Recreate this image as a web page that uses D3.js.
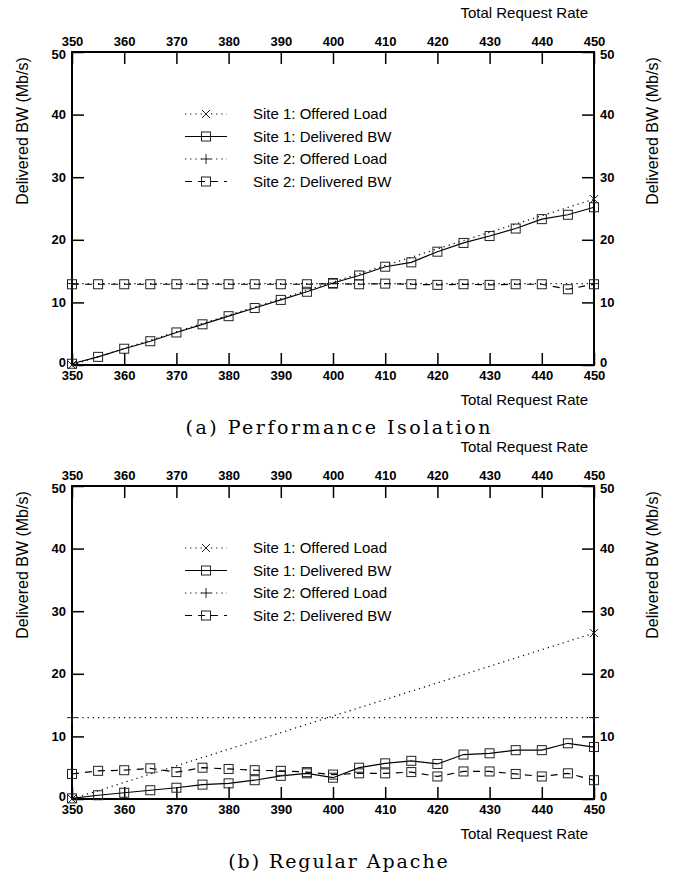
<!DOCTYPE html>
<html>
<head>
<meta charset="utf-8">
<script src="https://cdn.jsdelivr.net/npm/d3@7"></script>
<style>
  body { margin: 0; background: #fff; }
  svg { display: block; }
</style>
</head>
<body>
<svg id="chart"></svg>
<script>
// request rates where bandwidth was measured
const rate = [350, 355, 360, 365, 370, 375, 380, 385, 390, 395, 400,
              405, 410, 415, 420, 425, 430, 435, 440, 445, 450];
// offered load is a straight line between two points
const loadRate = [350, 450];

// (a) Performance Isolation
const isoS1Load = [0, 26.5];
const isoS2Load = [13, 13];
const isoS1Bw = [0.2, 1.3, 2.6, 3.8, 5.2, 6.5, 7.8, 9.1, 10.4, 11.7, 13.1,
                 14.3, 15.7, 16.4, 18.1, 19.5, 20.6, 21.8, 23.3, 24.0, 25.2];
const isoS2Bw = [12.9, 12.9, 12.9, 12.9, 12.9, 12.9, 12.9, 12.9, 12.9, 12.9, 13.0,
                 12.9, 13.0, 12.9, 12.8, 12.9, 12.8, 12.9, 12.9, 12.1, 12.9];

// (b) Regular Apache
const apacheS1Load = [0, 26.5];
const apacheS2Load = [13, 13];
const apacheS1Bw = [0.1, 0.6, 1.0, 1.4, 1.8, 2.3, 2.5, 3.0, 3.7, 4.1, 3.4,
                    5.0, 5.7, 6.1, 5.6, 7.1, 7.3, 7.8, 7.8, 8.9, 8.3];
const apacheS2Bw = [4.0, 4.5, 4.6, 4.9, 4.3, 5.0, 4.8, 4.6, 4.5, 4.3, 3.9,
                    4.1, 4.1, 4.3, 3.6, 4.4, 4.4, 4.0, 3.6, 4.1, 3.0];

const xTicks = [350, 360, 370, 380, 390, 400, 410, 420, 430, 440, 450];
const yTicks = [0, 10, 20, 30, 40, 50];
const legendLabels = ["Site 1: Offered Load", "Site 1: Delivered BW",
                      "Site 2: Offered Load", "Site 2: Delivered BW"];

const width = 681, height = 878;
const svg = d3.select("#chart").attr("width", width).attr("height", height);

const left = 72, right = 594, plotH = 313;
const x = d3.scaleLinear().domain([350, 450]).range([left, right]);

const sans = "'Liberation Sans', Arial, sans-serif";
const dotted = "1.2,4";
const dashed = "7,6";

function square(g, cx, cy) {
  g.append("rect")
    .attr("x", cx - 4.5).attr("y", cy - 4.5)
    .attr("width", 9).attr("height", 9)
    .attr("fill", "none").attr("stroke", "#222").attr("stroke-width", 1);
}
function cross(g, cx, cy) {
  const s = 4;
  g.append("path")
    .attr("d", `M${cx - s},${cy - s}L${cx + s},${cy + s}M${cx - s},${cy + s}L${cx + s},${cy - s}`)
    .attr("stroke", "#222").attr("stroke-width", 1);
}
function plus(g, cx, cy) {
  const s = 5;
  g.append("path")
    .attr("d", `M${cx - s},${cy}L${cx + s},${cy}M${cx},${cy - s}L${cx},${cy + s}`)
    .attr("stroke", "#222").attr("stroke-width", 1);
}

function panel(top, caption, s1Load, s1Bw, s2Load, s2Bw) {
  const bottom = top + plotH;
  const y = d3.scaleLinear().domain([0, 50]).range([bottom, top]);
  const g = svg.append("g");

  // axis title above and below
  g.append("text").attr("x", 588).attr("y", top - 34)
    .attr("text-anchor", "end").attr("font-family", sans).attr("font-size", 15)
    .text("Total Request Rate");
  g.append("text").attr("x", 588).attr("y", bottom + 40)
    .attr("text-anchor", "end").attr("font-family", sans).attr("font-size", 15)
    .text("Total Request Rate");

  // y titles
  [28, 658].forEach(cx => {
    g.append("text")
      .attr("transform", `translate(${cx},${top + 79}) rotate(-90)`)
      .attr("text-anchor", "middle").attr("font-family", sans).attr("font-size", 16)
      .text("Delivered BW (Mb/s)");
  });

  // axes with inward ticks
  const axB = g.append("g").attr("transform", `translate(0,${bottom})`)
    .call(d3.axisBottom(x).tickValues(xTicks).tickSizeInner(-12).tickSizeOuter(0).tickPadding(6));
  const axT = g.append("g").attr("transform", `translate(0,${top})`)
    .call(d3.axisTop(x).tickValues(xTicks).tickSizeInner(-12).tickSizeOuter(0).tickPadding(6));
  const axL = g.append("g").attr("transform", `translate(${left},0)`)
    .call(d3.axisLeft(y).tickValues(yTicks).tickSizeInner(-12).tickSizeOuter(0).tickPadding(6));
  const axR = g.append("g").attr("transform", `translate(${right},0)`)
    .call(d3.axisRight(y).tickValues(yTicks).tickSizeInner(-12).tickSizeOuter(0).tickPadding(6));
  [axB, axT, axL, axR].forEach(a => {
    a.select(".domain").remove();
    a.selectAll(".tick line").attr("stroke", "#000").attr("stroke-width", 1.5);
    a.selectAll(".tick text").attr("font-family", sans).attr("font-size", 13)
      .attr("font-weight", "bold").attr("fill", "#000");
  });
  // nudge the end labels so they clear the corner x labels
  [axL, axR].forEach(a => {
    a.selectAll(".tick text").filter(d => d === 0).attr("dy", "0.1em");
    a.selectAll(".tick text").filter(d => d === 50).attr("dy", "0.5em");
  });
  g.append("rect").attr("x", left).attr("y", top)
    .attr("width", right - left).attr("height", plotH)
    .attr("fill", "none").attr("stroke", "#000").attr("stroke-width", 2);

  const line = d3.line().x(d => x(d[0])).y(d => y(d[1]));
  const series = [
    { xs: loadRate, ys: s1Load, dash: dotted, mark: cross },
    { xs: rate, ys: s1Bw, dash: null, mark: square },
    { xs: loadRate, ys: s2Load, dash: dotted, mark: plus },
    { xs: rate, ys: s2Bw, dash: dashed, mark: square }
  ];
  series.forEach(s => {
    const pts = s.xs.map((v, i) => [v, s.ys[i]]);
    g.append("path").datum(pts).attr("d", line)
      .attr("fill", "none").attr("stroke", "#000").attr("stroke-width", 1.2)
      .attr("stroke-dasharray", s.dash);
    pts.forEach(p => s.mark(g, x(p[0]), y(p[1])));
  });

  // legend
  const lg = g.append("g");
  series.forEach((s, i) => {
    const ly = top + 62 + i * 22.5;
    lg.append("line").attr("x1", 185).attr("x2", 227).attr("y1", ly).attr("y2", ly)
      .attr("stroke", "#000").attr("stroke-width", 1.2)
      .attr("stroke-dasharray", s.dash);
    s.mark(lg, 206, ly);
    lg.append("text").attr("x", 253).attr("y", ly + 5)
      .attr("font-family", sans).attr("font-size", 15).text(legendLabels[i]);
  });

  // caption
  g.append("text").attr("x", 338).attr("y", bottom + 69)
    .attr("text-anchor", "middle").attr("font-family", "'DejaVu Serif', serif")
    .attr("font-size", 19).attr("textLength", caption.length * 12.2)
    .attr("lengthAdjust", "spacing").text(caption);
}

panel(52, "(a) Performance Isolation", isoS1Load, isoS1Bw, isoS2Load, isoS2Bw);
panel(486, "(b) Regular Apache", apacheS1Load, apacheS1Bw, apacheS2Load, apacheS2Bw);
</script>
</body>
</html>
